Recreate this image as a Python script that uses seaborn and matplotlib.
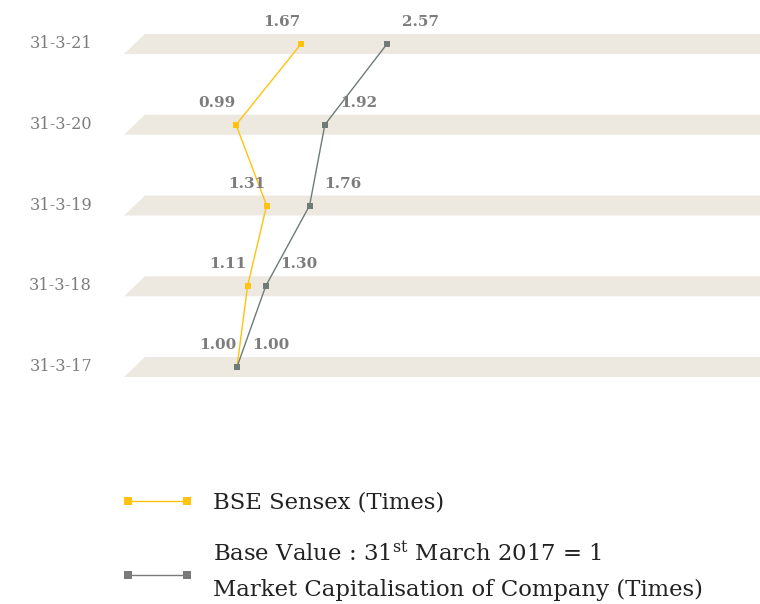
import pandas as pd
import matplotlib.pyplot as plt
import seaborn as sns
from matplotlib.lines import Line2D
from matplotlib.patches import Polygon

# Data (bottom row first)
dates = ["31-3-17", "31-3-18", "31-3-19", "31-3-20", "31-3-21"]
bse_sensex = [1.00, 1.11, 1.31, 0.99, 1.67]
market_cap = [1.00, 1.30, 1.76, 1.92, 2.57]
series_names = ["BSE Sensex (Times)", "Market Capitalisation of Company (Times)"]

yellow = "#FFC20E"
grey_line = "#6E7B77"
grey_text = "#7c7c7c"
band_color = "#EDE9E0"

sns.set_theme(style="white")
plt.rcParams["font.family"] = ["DejaVu Serif", "DejaVu Sans"]
plt.rcParams["mathtext.fontset"] = "dejavuserif"

pos = list(range(len(dates)))
df = pd.DataFrame({
    "pos": pos * 2,
    "value": bse_sensex + market_cap,
    "series": [series_names[0]] * len(dates) + [series_names[1]] * len(dates),
})

fig = plt.figure(figsize=(7.6, 6.04), dpi=100)
# axes from x=124px to the right edge, y from 0 to 400px
ax = fig.add_axes([124 / 760, 1 - 400 / 604, 1 - 124 / 760, 400 / 604])

# background bands (slanted on the left)
half = 0.124
for p in pos:
    band = Polygon([(0, p - half), (21 / 636, p + half), (1, p + half), (1, p - half)],
                   closed=True, facecolor=band_color, edgecolor="none",
                   transform=ax.get_yaxis_transform(), zorder=0)
    ax.add_patch(band)

sns.lineplot(data=df, x="value", y="pos", hue="series", style="series",
             markers=["s", "s"], dashes=False, palette=[yellow, grey_line],
             orient="y", sort=True, linewidth=1, markersize=5,
             markeredgewidth=0, legend=False, ax=ax, zorder=3)

# value labels
for v, p in zip(bse_sensex, pos):
    ax.annotate(f"{v:.2f}", (v, p), xytext=(-1, 22), textcoords="offset pixels",
                ha="right", va="center", fontsize=11, fontweight="bold", color=grey_text)
for v, p in zip(market_cap, pos):
    ax.annotate(f"{v:.2f}", (v, p), xytext=(15, 22), textcoords="offset pixels",
                ha="left", va="center", fontsize=11, fontweight="bold", color=grey_text)

px_per_unit = 95.5
ax.set_xlim(1 - (237 - 124) / px_per_unit, 1 + (760 - 237) / px_per_unit)
row_px = 80.75
ax.set_ylim(-(400 - 367) / row_px, 4 + 44 / row_px)

ax.set_yticks([p + 0.03 for p in pos], labels=dates)
ax.tick_params(axis="y", length=0, pad=23, labelsize=11.6, labelcolor=grey_text)
ax.set_xticks([])
ax.set_xlabel("")
ax.set_ylabel("")
for s in ax.spines.values():
    s.set_visible(False)

# legend drawn on the figure
fig.add_artist(Line2D([128 / 760, 187 / 760], [1 - 501 / 604] * 2, color=yellow, lw=1,
                      marker="s", markersize=6, markeredgewidth=0))
fig.add_artist(Line2D([128 / 760, 187 / 760], [1 - 575 / 604] * 2, color="#7a7a7a", lw=1,
                      marker="s", markersize=6, markeredgewidth=0))
fig.text(213 / 760, 1 - 503 / 604, series_names[0], ha="left", va="center",
         fontsize=16.4, color="#222222")
fig.text(213 / 760, 1 - 555 / 604, r"Base Value : 31$^{\mathrm{st}}$ March 2017 = 1",
         ha="left", va="center", fontsize=16.4, color="#222222")
fig.text(213 / 760, 1 - 590 / 604, series_names[1], ha="left", va="center",
         fontsize=16.4, color="#222222")

fig.savefig("out.png", dpi=100)
